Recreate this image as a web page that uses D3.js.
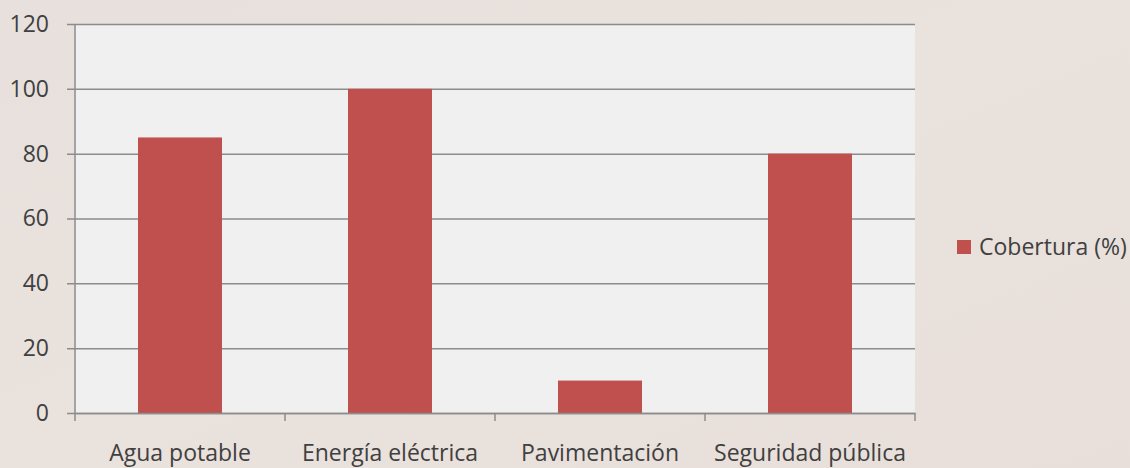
<!DOCTYPE html>
<html>
<head>
<meta charset="utf-8">
<script src="https://cdn.jsdelivr.net/npm/d3@7"></script>
<style>
  html, body { margin: 0; padding: 0; background: #e9e1dc; }
  svg { display: block; }
</style>
</head>
<body>
<svg id="chart" width="1130" height="468"></svg>
<script>
const categories = ["Agua potable", "Energía eléctrica", "Pavimentación", "Seguridad pública"];
const values = [85, 100, 10, 80];
const yTicks = [0, 20, 40, 60, 80, 100, 120];
const seriesName = "Cobertura (%)";

const W = 1130, H = 468;
const margin = { left: 75, right: 215, top: 24, bottom: 55 };
const svg = d3.select("#chart");
const font = "'Open Sans', sans-serif";
const fontSize = 23;
const textColor = "#404040";
const lineColor = "#8c8c8c";

// background with subtle gradient
const defs = svg.append("defs");
const grad = defs.append("linearGradient").attr("id", "bg").attr("x1", 0).attr("y1", 0).attr("x2", 1).attr("y2", 1);
grad.append("stop").attr("offset", "0%").attr("stop-color", "#e7e0dc");
grad.append("stop").attr("offset", "50%").attr("stop-color", "#eae2dd");
grad.append("stop").attr("offset", "100%").attr("stop-color", "#e8dfda");
svg.append("rect").attr("width", W).attr("height", H).attr("fill", "url(#bg)");

const x = d3.scaleBand().domain(categories).range([margin.left, W - margin.right]).paddingInner(0.6).paddingOuter(0.3);
const xOuter = d3.scaleBand().domain(categories).range([margin.left, W - margin.right]).padding(0);
const y = d3.scaleLinear().domain([0, 120]).range([H - margin.bottom, margin.top]);

// plot area
svg.append("rect")
  .attr("x", margin.left).attr("y", y(120))
  .attr("width", W - margin.right - margin.left)
  .attr("height", y(0) - y(120))
  .attr("fill", "#f0f0f0");

// gridlines + y ticks
const yAxis = d3.axisLeft(y).tickValues(yTicks).tickSize(-(W - margin.right - margin.left)).tickSizeOuter(0).tickPadding(26);
const gy = svg.append("g").attr("transform", `translate(${margin.left},0)`).call(yAxis);
gy.select(".domain").remove();
gy.selectAll(".tick line").attr("stroke", lineColor).attr("stroke-width", 1.5).attr("x1", -8);
gy.selectAll(".tick text").attr("font-family", font).attr("font-size", fontSize).attr("fill", textColor);

// left axis line
svg.append("line")
  .attr("x1", margin.left).attr("x2", margin.left)
  .attr("y1", y(120)).attr("y2", y(0))
  .attr("stroke", lineColor).attr("stroke-width", 1.5);

// bars
svg.append("g").selectAll("rect").data(values).join("rect")
  .attr("x", (d, i) => x(categories[i]))
  .attr("width", x.bandwidth())
  .attr("y", d => y(d))
  .attr("height", d => y(0) - y(d))
  .attr("fill", "#c0504d");

// x axis
const gx = svg.append("g").attr("transform", `translate(0,${y(0)})`)
  .call(d3.axisBottom(xOuter).tickSize(0).tickPadding(32));
gx.select(".domain").attr("stroke", lineColor).attr("stroke-width", 1.5);
gx.selectAll(".tick text").attr("font-family", font).attr("font-size", fontSize).attr("fill", textColor);
// category boundary tick marks
const bounds = categories.map(c => xOuter(c)).concat([xOuter(categories[categories.length - 1]) + xOuter.bandwidth()]);
gx.selectAll(".bound").data(bounds).join("line")
  .attr("x1", d => d).attr("x2", d => d)
  .attr("y1", 0).attr("y2", 8)
  .attr("stroke", lineColor).attr("stroke-width", 1.5);

// legend
const lg = svg.append("g").attr("transform", "translate(957,240)");
lg.append("rect").attr("width", 14).attr("height", 14).attr("fill", "#c0504d");
lg.append("text").attr("x", 22).attr("y", 7).attr("dy", "0.35em")
  .attr("font-family", font).attr("font-size", fontSize).attr("fill", textColor)
  .text(seriesName);
</script>
</body>
</html>
